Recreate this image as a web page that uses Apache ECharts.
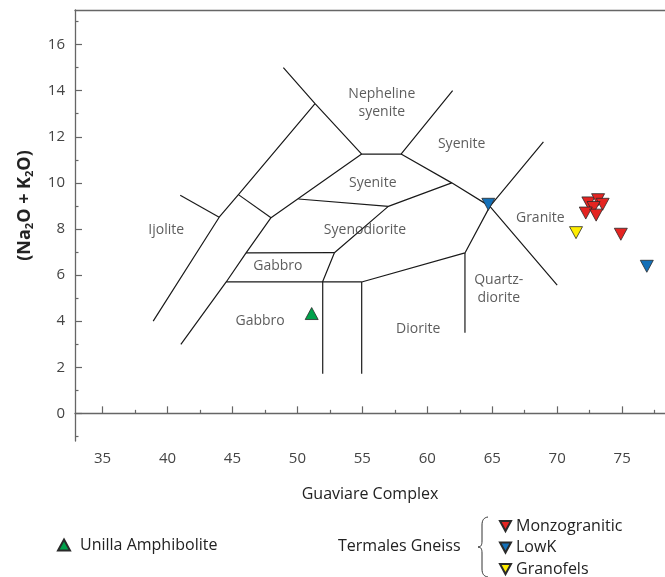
<!DOCTYPE html>
<html>
	<head>
		<meta charset="utf-8" />
		<title>TAS plutonic</title>
		<script src="https://cdn.jsdelivr.net/npm/echarts@6/dist/echarts.min.js"></script>
		<style>
			html, body { margin: 0; padding: 0; background: #fff; }
		</style>
	</head>
	<body>
		<div id="tas" style="width:665px;height:577px;"></div>
	</body>

	<script type="text/javascript">

	// axis ticks
	var xMajorTicks = [35, 40, 45, 50, 55, 60, 65, 70, 75];
	var xMinorTicks = [37.5, 42.5, 47.5, 52.5, 57.5, 62.5, 67.5, 72.5, 77.5];
	var yMajorTicks = [0, 2, 4, 6, 8, 10, 12, 14, 16];
	var yMinorTicks = [-1, 1, 3, 5, 7, 9, 11, 13, 15, 17];

	// field boundaries (SiO2, Na2O+K2O)
	var boundaries = [
		[[38.9, 4.0], [43.98, 8.51], [45.46, 9.49], [51.36, 13.44]],
		[[40.98, 9.46], [43.98, 8.51]],
		[[41.03, 2.99], [44.52, 5.7], [46.05, 6.96], [47.97, 8.49], [54.95, 11.25]],
		[[45.46, 9.49], [47.97, 8.49]],
		[[48.92, 15.0], [51.36, 13.44], [54.95, 11.25], [57.98, 11.25], [61.95, 14.0]],
		[[57.98, 11.25], [61.88, 10.0], [64.82, 8.98], [70.0, 5.56]],
		[[50.08, 9.3], [57.0, 8.98], [61.88, 10.0]],
		[[57.0, 8.98], [52.85, 6.97], [51.95, 5.72], [51.95, 1.72]],
		[[46.05, 6.96], [52.85, 6.97]],
		[[44.52, 5.7], [54.95, 5.7], [62.9, 6.96], [64.82, 8.98], [68.94, 11.78]],
		[[54.95, 5.7], [54.95, 1.72]],
		[[62.9, 6.96], [62.9, 3.5]]
	];

	// field names
	var fieldLabels = [
		[56.5, 13.48, 'Nepheline\nsyenite'],
		[62.65, 11.7, 'Syenite'],
		[55.8, 10.0, 'Syenite'],
		[55.2, 7.95, 'Syenodiorite'],
		[48.5, 6.38, 'Gabbro'],
		[47.13, 4.0, 'Gabbro'],
		[39.9, 7.94, 'Ijolite'],
		[59.3, 3.65, 'Diorite'],
		[65.5, 5.41, 'Quartz-\ndiorite'],
		[68.7, 8.49, 'Granite']
	];

	// samples
	var amphibolite = [[51.1, 4.33]];
	var monzogranitic = [[72.4, 9.13], [73.15, 9.27], [73.5, 9.07], [72.8, 8.93], [72.2, 8.69], [73.0, 8.6], [74.9, 7.77]];
	var lowK = [[64.7, 9.07], [76.9, 6.38]];
	var granofels = [[71.45, 7.84]];

	var downTri = 'path://M0,0L10,0L5,9.2Z';
	var font = '"Open Sans", "Noto Sans", sans-serif';

	var myChart = echarts.init(document.getElementById('tas'));

	var series = [];
	for (var i = 0; i < boundaries.length; i++) {
		series.push({
			type: 'line',
			data: boundaries[i],
			symbol: 'none',
			silent: true,
			lineStyle: { color: '#1a1a1a', width: 1.2 },
			z: 2
		});
	}

	series.push({
		type: 'scatter',
		data: fieldLabels,
		symbolSize: 0,
		silent: true,
		label: {
			show: true,
			position: 'inside',
			formatter: function (p) { return p.data[2]; },
			fontFamily: font,
			fontSize: 14,
			lineHeight: 18,
			color: '#333'
		},
		z: 3
	});

	function sampleSeries(name, data, symbol, color) {
		return {
			name: name,
			type: 'scatter',
			data: data,
			symbol: symbol,
			symbolSize: [13, 12],
			itemStyle: { color: color, opacity: 1, borderColor: '#2a2a2a', borderWidth: 0.8 },
			z: 5
		};
	}
	series.push(sampleSeries('Unilla Amphibolite', amphibolite, 'triangle', '#00a14b'));
	series.push(sampleSeries('Monzogranitic', monzogranitic, downTri, '#e52421'));
	series.push(sampleSeries('LowK', lowK, downTri, '#1470b8'));
	series.push(sampleSeries('Granofels', granofels, downTri, '#ffed00'));

	// curly brace next to "Termales Gneiss"
	var braceStyle = { fill: 'none', stroke: '#333', lineWidth: 1 };

	option = {
		backgroundColor: '#fff',
		animation: false,
		textStyle: { fontFamily: font },
		grid: {
			left: 75,
			right: 0,
			top: 10,
			bottom: 136
		},
		legend: [
			{
				data: [{ name: 'Unilla Amphibolite', icon: 'triangle' }],
				left: 57,
				top: 537,
				padding: 0,
				itemWidth: 12,
				itemHeight: 11,
				selectedMode: false,
				textStyle: { fontFamily: font, fontSize: 16, color: '#222', padding: [0, 0, 0, 5] }
			},
			{
				data: [
					{ name: 'Monzogranitic', icon: downTri },
					{ name: 'LowK', icon: downTri },
					{ name: 'Granofels', icon: downTri }
				],
				orient: 'vertical',
				left: 499,
				top: 518,
				padding: 0,
				itemGap: 5.5,
				itemWidth: 11,
				itemHeight: 11,
				selectedMode: false,
				textStyle: { fontFamily: font, fontSize: 16, lineHeight: 16, color: '#222' }
			}
		],
		xAxis: [
			{
				type: 'value',
				position: 'bottom',
				min: 32.88,
				max: 78.3,
				name: 'Guaviare Complex',
				nameLocation: 'middle',
				nameGap: 45,
				nameTextStyle: { fontFamily: font, fontSize: 16, color: '#222' },
				splitLine: { show: false },
				axisLine: { lineStyle: { color: '#666', width: 1.3 } },
				axisTick: { inside: true, length: 7, customValues: xMajorTicks, lineStyle: { color: '#666', width: 1.2 } },
				axisLabel: { customValues: xMajorTicks, margin: 10, fontFamily: font, fontSize: 15, color: '#444' }
			},
			{
				type: 'value',
				position: 'bottom',
				min: 32.88,
				max: 78.3,
				splitLine: { show: false },
				axisLine: { show: false },
				axisTick: { inside: true, length: 3.5, customValues: xMinorTicks, lineStyle: { color: '#666', width: 1.2 } },
				axisLabel: { show: false }
			},
			{
				type: 'value',
				position: 'top',
				min: 32.88,
				max: 78.3,
				splitLine: { show: false },
				axisLine: { lineStyle: { color: '#666', width: 1.3 } },
				axisTick: { show: false },
				axisLabel: { show: false }
			}
		],
		yAxis: [
			{
				type: 'value',
				position: 'left',
				min: -1.2,
				max: 17.5,
				name: '{p|(Na}{s|2}{p|O + K}{s|2}{p|O)}',
				nameLocation: 'middle',
				nameGap: 40,
				nameRotate: 90,
				nameTextStyle: {
					padding: [0, 0, 0, 40],
					rich: {
						p: { fontFamily: font, fontSize: 18, fontWeight: 'bold', color: '#222' },
						s: { fontFamily: font, fontSize: 11, fontWeight: 'bold', color: '#222', padding: [10, 0, 0, 0] }
					}
				},
				splitLine: { show: false },
				axisLine: { lineStyle: { color: '#666', width: 1.3 } },
				axisTick: { inside: true, length: 7, customValues: yMajorTicks, lineStyle: { color: '#666', width: 1.2 } },
				axisLabel: { customValues: yMajorTicks, margin: 10, fontFamily: font, fontSize: 15, color: '#444' }
			},
			{
				type: 'value',
				position: 'left',
				min: -1.2,
				max: 17.5,
				splitLine: { show: false },
				axisLine: { show: false },
				axisTick: { inside: true, length: 3.5, customValues: yMinorTicks, lineStyle: { color: '#666', width: 1.2 } },
				axisLabel: { show: false }
			}
		],
		graphic: [
			{
				type: 'text',
				x: 338,
				y: 538,
				style: { text: 'Termales Gneiss', fontFamily: font, fontSize: 16, fill: '#222' }
			},
			{ type: 'bezierCurve', shape: { x1: 488, y1: 517, cpx1: 484, cpy1: 517.5, cpx2: 482, cpy2: 520, x2: 482, y2: 525 }, style: braceStyle },
			{ type: 'line', shape: { x1: 482, y1: 525, x2: 482, y2: 541 }, style: braceStyle },
			{ type: 'bezierCurve', shape: { x1: 482, y1: 541, cpx1: 482, cpy1: 545, cpx2: 481, cpy2: 547, x2: 478, y2: 547 }, style: braceStyle },
			{ type: 'bezierCurve', shape: { x1: 478, y1: 547, cpx1: 481, cpy1: 547, cpx2: 482, cpy2: 549, x2: 482, y2: 553 }, style: braceStyle },
			{ type: 'line', shape: { x1: 482, y1: 553, x2: 482, y2: 569 }, style: braceStyle },
			{ type: 'bezierCurve', shape: { x1: 482, y1: 569, cpx1: 482, cpy1: 574, cpx2: 484, cpy2: 576.5, x2: 488, y2: 577 }, style: braceStyle }
		],
		series: series
	};

	myChart.setOption(option);

	</script>
</html>
